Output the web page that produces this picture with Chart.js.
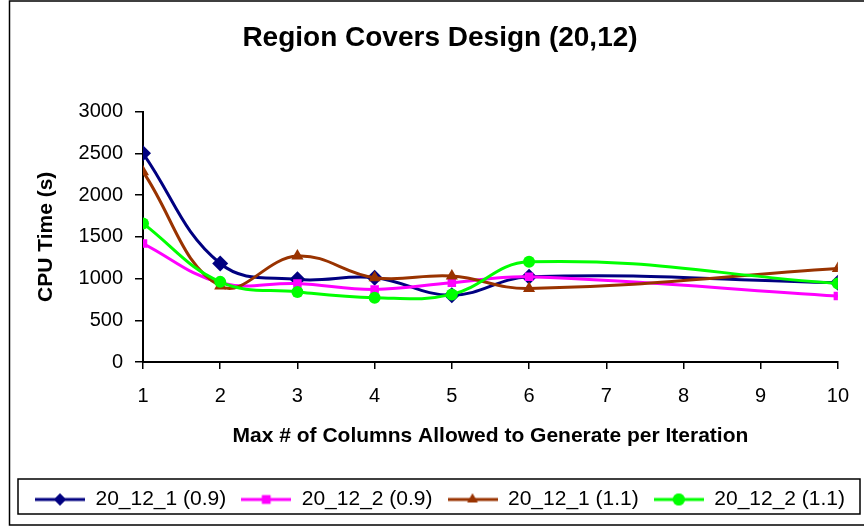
<!DOCTYPE html>
<html>
<head>
<meta charset="utf-8">
<script src="https://cdn.jsdelivr.net/npm/chart.js@4/dist/chart.umd.min.js"></script>
<style>
  html, body { margin: 0; padding: 0; background: #fff; }
  #wrap { width: 864px; height: 528px; }
</style>
</head>
<body>
<div id="wrap"><canvas id="grafico" width="864" height="528"></canvas></div>
<script>
// Max # of columns allowed per iteration
const colunas = [1, 2, 3, 4, 5, 6, 10];

// CPU time (s) for each run
const serie_20_12_1_09 = [2500, 1180, 990, 1010, 800, 1020, 950];
const serie_20_12_2_09 = [1420, 950, 940, 870, 950, 1020, 790];
const serie_20_12_1_11 = [2280, 910, 1270, 1010, 1030, 880, 1120];
const serie_20_12_2_11 = [1660, 960, 840, 770, 810, 1200, 940];

const nomes = ['20_12_1 (0.9)', '20_12_2 (0.9)', '20_12_1 (1.1)', '20_12_2 (1.1)'];
const cores = ['#000080', '#ff00ff', '#993300', '#00ff00'];
const marcadores = ['rectRot', 'rect', 'triangle', 'circle'];
const raios = [8, 6, 7, 6];
const series = [serie_20_12_1_09, serie_20_12_2_09, serie_20_12_1_11, serie_20_12_2_11];

const fonte = "'Liberation Sans', Arial, sans-serif";

// Desenha o simbolo da legenda: linha com marcador no meio
function simboloLegenda(cor, estilo) {
  const c = document.createElement('canvas');
  c.width = 50; c.height = 18;
  const ctx = c.getContext('2d');
  ctx.strokeStyle = cor;
  ctx.lineWidth = 3;
  ctx.beginPath();
  ctx.moveTo(0, 9); ctx.lineTo(50, 9);
  ctx.stroke();
  ctx.fillStyle = cor;
  Chart.helpers.drawPoint(ctx, { pointStyle: estilo, radius: 6, borderWidth: 0 }, 25, 9);
  ctx.fill();
  return c;
}

// Moldura externa e caixa da legenda
const molduras = {
  id: 'molduras',
  afterDraw(chart) {
    const ctx = chart.ctx;
    const lg = chart.legend;
    ctx.save();
    ctx.strokeStyle = '#000';
    ctx.lineWidth = 1.5;
    ctx.strokeRect(9.5, 1, 870, 524);
    ctx.strokeRect(18, lg.top + 5, 842, lg.height - 11);
    ctx.restore();
  }
};

new Chart(document.getElementById('grafico'), {
  type: 'line',
  data: {
    datasets: series.map((s, i) => ({
      label: nomes[i],
      data: s.map((v, j) => ({ x: colunas[j], y: v })),
      borderColor: cores[i],
      backgroundColor: cores[i],
      borderWidth: 3,
      pointStyle: marcadores[i],
      pointRadius: raios[i],
      pointBorderWidth: 0,
      tension: 0.4,
      order: 3 - i
    }))
  },
  options: {
    responsive: false,
    animation: false,
    layout: { padding: { left: 18, right: 2, top: 0, bottom: 8 } },
    plugins: {
      title: {
        display: true,
        text: 'Region Covers Design (20,12)',
        color: '#000',
        font: { family: fonte, size: 28, weight: 'bold' },
        padding: { top: 21, bottom: 57 }
      },
      legend: {
        position: 'bottom',
        labels: {
          color: '#000',
          font: { family: fonte, size: 21 },
          usePointStyle: true,
          pointStyleWidth: 50,
          boxHeight: 18,
          padding: 15,
          sort: (a, b) => a.datasetIndex - b.datasetIndex,
          generateLabels: chart => chart.data.datasets.map((d, i) => ({
            text: d.label,
            datasetIndex: i,
            pointStyle: simboloLegenda(cores[i], marcadores[i]),
            fillStyle: cores[i],
            strokeStyle: cores[i],
            lineWidth: 0,
            fontColor: '#000'
          }))
        }
      },
      tooltip: { enabled: false }
    },
    scales: {
      x: {
        type: 'linear',
        min: 1,
        max: 10,
        afterFit: s => { s.height = 112; },
        ticks: { stepSize: 1, color: '#000', font: { family: fonte, size: 20 }, padding: 15 },
        grid: { drawOnChartArea: false, color: '#000', lineWidth: 1.5, tickLength: 7 },
        border: { color: '#000', width: 2 },
        title: {
          display: true,
          text: 'Max # of Columns Allowed to Generate per Iteration',
          color: '#000',
          font: { family: fonte, size: 21, weight: 'bold' },
          padding: { top: 0, bottom: 25 }
        }
      },
      y: {
        min: 0,
        max: 3000,
        afterFit: s => { s.width = 125; },
        ticks: { stepSize: 500, color: '#000', font: { family: fonte, size: 20 }, padding: 12, callback: v => String(v) },
        grid: { drawOnChartArea: false, color: '#000', lineWidth: 1.5, tickLength: 8 },
        border: { color: '#000', width: 2 },
        title: {
          display: true,
          text: 'CPU Time (s)',
          color: '#000',
          font: { family: fonte, size: 21, weight: 'bold' },
          padding: { top: 16, bottom: 0 }
        }
      },
      // eixo vazio a direita so para reservar espaco
      direita: {
        position: 'right',
        afterFit: s => { s.width = 24; },
        ticks: { display: false },
        grid: { display: false },
        border: { display: false }
      }
    }
  },
  plugins: [molduras]
});
</script>
</body>
</html>
